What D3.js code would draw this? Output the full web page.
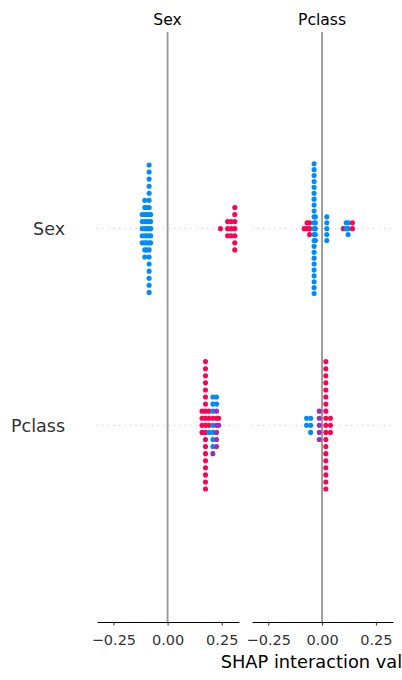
<!DOCTYPE html>
<html><head><meta charset="utf-8">
<script src="https://cdn.jsdelivr.net/npm/d3@7"></script>
<style>html,body{margin:0;padding:0;background:#fff;} svg{display:block;}</style>
</head><body><svg id="chart" width="402" height="680"></svg>
<script>
// ---- data ----
const features = ["Sex", "Pclass"];            // rows, top to bottom
const rowIndex = [1, 0];                        // data y of each row
const panelTitles = ["Sex", "Pclass"];          // columns
const xTicks = [-0.25, 0, 0.25];
const xLabel = "SHAP interaction value";

// each stack: interaction value + colour class of its points (B=low, P=mid, R=high feature value)
const sexBySexValues = [-0.117, -0.105, -0.096, -0.085, -0.078, 0.244, 0.277, 0.293, 0.310];
const sexBySexColors = ["BBBBB", "BBBBBBBBB", "BBBBBBB", "BBBBBBBBBBBBBBBBBBB", "BBBBB", "R", "RRR", "RRR", "RRRRRRR"];

const sexByPclassValues = [-0.083, -0.070, -0.058, -0.037, -0.031, 0.022, 0.099, 0.112, 0.121, 0.141];
const sexByPclassColors = ["R", "RR", "RRR", "BBBBBBBBBBBBBBBBBBBBBBB", "BBBBB", "BBBBB", "R", "BB", "BBB", "RR"];

const pclassBySexValues = [0.159, 0.175, 0.191, 0.209, 0.226, 0.236];
const pclassBySexColors = ["RRRR", "RRRRRRRRRRRRRRRRRRR", "RRBR", "BRBBBBBBP", "PRPPPBPB", "PR"];

const pclassByPclassValues = [-0.072, -0.053, -0.013, 0.0175, 0.039];
const pclassByPclassColors = ["BB", "BBB", "PPPPP", "RRRRRRRRRRRRRRRRRRR", "RRR"];

const colorOf = {B: "#008bfb", P: "#9b2fb3", R: "#ff0052"};

// panels[col][row]
const panels = [
  [[sexBySexValues, sexBySexColors], [pclassBySexValues, pclassBySexColors]],
  [[sexByPclassValues, sexByPclassColors], [pclassByPclassValues, pclassByPclassColors]]
];

// ---- layout ----
const svg = d3.select("#chart");
const W = 402, H = 680;
const y = d3.scaleLinear().domain([-1, 2]).range([622, 32]);
const xScales = [
  d3.scaleLinear().domain([-0.3255, 0.3295]).range([97, 239]),
  d3.scaleLinear().domain([-0.3255, 0.3295]).range([252, 393])
];
const font = "DejaVu Sans, sans-serif";

// beeswarm stacking like shap summary plot
function stack(values, colors, row) {
  const pts = [];
  let maxOff = 0;
  values.forEach((v, i) => {
    const s = colors[i];
    for (let k = 0; k < s.length; k++) {
      const off = Math.ceil(k / 2) * (k % 2 ? 1 : -1);
      maxOff = Math.max(maxOff, Math.abs(off));
      pts.push({v: v, off: off, c: s[k]});
    }
  });
  const sc = 0.9 * 0.4 / (maxOff + 1);
  pts.forEach(p => p.y = row + p.off * sc);
  return pts;
}

xScales.forEach((x, ci) => {
  const g = svg.append("g");
  // dotted row guides
  rowIndex.forEach(r => {
    g.append("line").attr("x1", x.range()[0]).attr("x2", x.range()[1])
      .attr("y1", y(r)).attr("y2", y(r))
      .attr("stroke", "#cccccc").attr("stroke-width", 1).attr("stroke-dasharray", "1.2,4.3");
  });
  // zero line
  g.append("line").attr("x1", x(0)).attr("x2", x(0)).attr("y1", y(2)).attr("y2", y(-1))
    .attr("stroke", "#999999").attr("stroke-width", 1.9);
  // points
  rowIndex.forEach((r, ri) => {
    const [vals, cols] = panels[ci][ri];
    const pts = stack(vals, cols, r);
    g.selectAll(null).data(pts).enter().append("circle")
      .attr("cx", d => x(d.v)).attr("cy", d => y(d.y)).attr("r", 2.55)
      .attr("fill", d => colorOf[d.c]);
  });
  // x axis
  const ax = g.append("g").attr("transform", `translate(0,${y(-1)})`)
    .call(d3.axisBottom(x).tickValues(xTicks).tickFormat(d3.format(".2f")).tickSize(3.5).tickSizeOuter(0));
  ax.select(".domain").attr("stroke", "#000").attr("stroke-width", 1);
  ax.selectAll(".tick line").attr("stroke", "#333");
  ax.selectAll(".tick text").attr("y", 23).attr("dy", null)
    .attr("fill", "#333").style("font-family", font).style("font-size", "14.5px");
  // title
  g.append("text").attr("x", x(0)).attr("y", 25).attr("text-anchor", "middle")
    .style("font-family", font).style("font-size", "15.6px").attr("fill", "#000")
    .text(panelTitles[ci]);
});

// row labels
features.forEach((f, i) => {
  svg.append("text").attr("x", 65).attr("y", y(rowIndex[i]) + 6.5).attr("text-anchor", "end")
    .style("font-family", font).style("font-size", "17.5px").attr("fill", "#333")
    .text(f);
});

// x label (centred on last panel)
svg.append("text").attr("x", (xScales[1].range()[0] + xScales[1].range()[1]) / 2).attr("y", 668)
  .attr("text-anchor", "middle").style("font-family", font).style("font-size", "17.8px").attr("fill", "#000")
  .text(xLabel);
</script></body></html>
